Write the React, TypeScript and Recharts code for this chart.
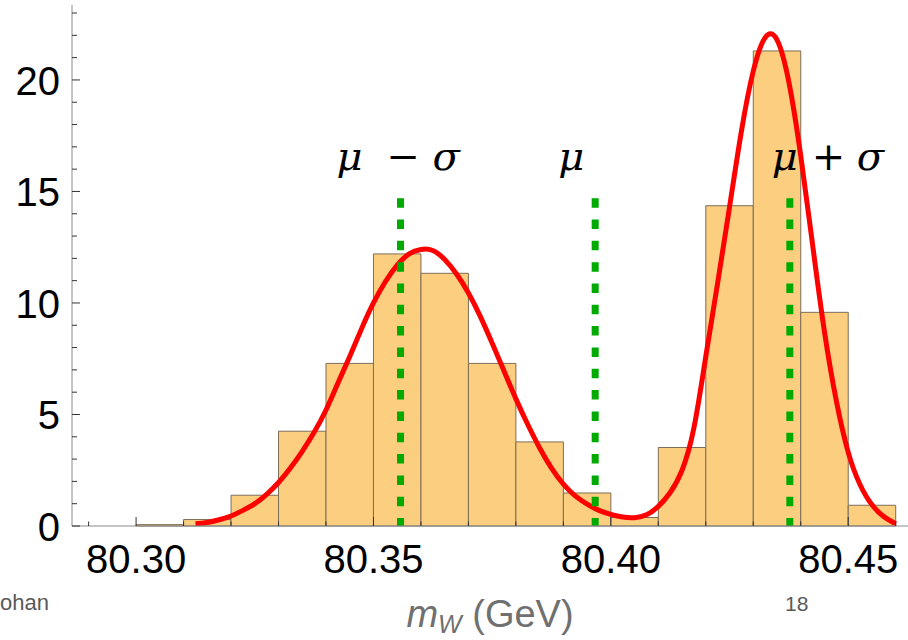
import React from "react";
import {
  ComposedChart,
  Line,
  XAxis,
  YAxis,
  ReferenceArea,
  ReferenceLine,
} from "recharts";

// histogram bins (GeV) and heights
const binEdges = [
  80.3, 80.31, 80.32, 80.33, 80.34, 80.35, 80.36, 80.37, 80.38, 80.39, 80.4,
  80.41, 80.42, 80.43, 80.44, 80.45, 80.46,
];
const binCounts = [
  0.06, 0.29, 1.38, 4.25, 7.29, 12.2, 11.33, 7.29, 3.77, 1.48, 0.38, 3.52,
  14.36, 21.3, 9.58, 0.93,
];

// fitted density curve, sampled every 0.0025 GeV
const curveX = [
  80.3125, 80.315, 80.3175, 80.32, 80.3225, 80.325, 80.3275, 80.33, 80.3325,
  80.335, 80.3375, 80.34, 80.3425, 80.345, 80.3475, 80.35, 80.3525, 80.355,
  80.3575, 80.36, 80.3625, 80.365, 80.3675, 80.37, 80.3725, 80.375, 80.3775,
  80.38, 80.3825, 80.385, 80.3875, 80.39, 80.3925, 80.395, 80.3975, 80.4,
  80.4025, 80.405, 80.4075, 80.41, 80.4125, 80.415, 80.4175, 80.42, 80.4225,
  80.425, 80.4275, 80.43, 80.4325, 80.435, 80.4375, 80.44, 80.4425, 80.445,
  80.4475, 80.45, 80.4525, 80.455, 80.4575, 80.46,
];
const curveY = [
  0.1, 0.16, 0.28, 0.45, 0.7, 1.0, 1.42, 1.95, 2.6, 3.35, 4.2, 5.2, 6.4, 7.6,
  8.85, 10.0, 10.95, 11.7, 12.2, 12.4, 12.35, 11.95, 11.3, 10.45, 9.4, 8.2,
  6.95, 5.7, 4.55, 3.5, 2.6, 1.88, 1.35, 0.98, 0.7, 0.52, 0.4, 0.37, 0.5, 0.88,
  1.5, 2.5, 4.4, 7.6, 10.9, 14.3, 17.7, 20.4, 21.9, 21.8, 19.9, 16.6, 12.6,
  8.7, 5.6, 3.3, 1.85, 0.95, 0.42, 0.1,
];

// mean and one-sigma markers
const markerX = [80.3557, 80.3967, 80.4377];
const markerTop = 14.7;

const xTicks = [
  80.29, 80.3, 80.31, 80.32, 80.33, 80.34, 80.35, 80.36, 80.37, 80.38, 80.39,
  80.4, 80.41, 80.42, 80.43, 80.44, 80.45, 80.46,
];
const xMajor = [80.3, 80.35, 80.4, 80.45];
const yTicks = [
  0, 1, 2, 3, 4, 5, 6, 7, 8, 9, 10, 11, 12, 13, 14, 15, 16, 17, 18, 19, 20,
  21, 22, 23,
];
const yMajor = [0, 5, 10, 15, 20];

const X_DOMAIN: [number, number] = [80.2865, 80.4628];
const Y_DOMAIN: [number, number] = [0, 23.36];

const curveData = curveX.map((x, i) => ({ x, y: curveY[i] }));

const isIn = (list: number[], v: number) =>
  list.some((m) => Math.abs(m - v) < 1e-6);

const TICK_COLOR = "#333";
const FRAME_COLOR = "#8a8a8a";
const LABEL_FONT = "'Liberation Sans', Arial, sans-serif";
const MATH_FONT = "'DejaVu Serif', 'Liberation Serif', serif";

function BottomTick(props: any) {
  const { x, y, payload } = props;
  const major = isIn(xMajor, payload.value);
  return (
    <g>
      <line x1={x} x2={x} y1={y} y2={y - (major ? 9 : 4.5)} stroke={TICK_COLOR} />
      {major && (
        <text
          x={x}
          y={y + 47}
          textAnchor="middle"
          fontSize={40}
          fontFamily={LABEL_FONT}
          fill="#000"
        >
          {payload.value.toFixed(2)}
        </text>
      )}
    </g>
  );
}

function TopTick(props: any) {
  const { x, y, payload } = props;
  const major = isIn(xMajor, payload.value);
  return <line x1={x} x2={x} y1={y} y2={y + (major ? 9 : 4.5)} stroke={TICK_COLOR} />;
}

function LeftTick(props: any) {
  const { x, y, payload } = props;
  const major = isIn(yMajor, payload.value);
  return (
    <g>
      <line x1={x} x2={x + (major ? 8 : 5)} y1={y} y2={y} stroke={TICK_COLOR} />
      {major && (
        <text
          x={x - 12}
          y={y + 15}
          textAnchor="end"
          fontSize={40}
          fontFamily={LABEL_FONT}
          fill="#000"
        >
          {payload.value}
        </text>
      )}
    </g>
  );
}

function RightTick(props: any) {
  const { x, y, payload } = props;
  const major = isIn(yMajor, payload.value);
  return <line x1={x} x2={x - (major ? 8 : 5)} y1={y} y2={y} stroke={TICK_COLOR} />;
}

// glyph pieces for each marker label, offset from the marker line
const markerGlyphs = [
  [
    { t: "μ", dx: -64, italic: true },
    { t: "−", dx: -14, italic: false },
    { t: "σ", dx: 32, italic: true },
  ],
  [{ t: "μ", dx: -37, italic: true }],
  [
    { t: "μ", dx: -18, italic: true },
    { t: "+", dx: 22, italic: false },
    { t: "σ", dx: 67, italic: true },
  ],
];

const markerLabel = (idx: number) => (props: any) => {
  const vb = props.viewBox || {};
  const x = vb.x ?? 0;
  const y = vb.y ?? 0;
  return (
    <text y={y - 28} fontSize={40} fontFamily={MATH_FONT} fill="#000">
      {markerGlyphs[idx].map((g, i) => (
        <tspan key={i} x={x + g.dx} fontStyle={g.italic ? "italic" : "normal"}>
          {g.t}
        </tspan>
      ))}
    </text>
  );
};

export default function App() {
  return (
    <div
      style={{
        position: "absolute",
        left: 0,
        top: 0,
        width: 908,
        height: 640,
        overflow: "hidden",
        background: "#fff",
      }}
    >
      <ComposedChart
        width={909}
        height={640}
        data={curveData}
        margin={{ top: 5, right: 0, left: 0, bottom: 0 }}
      >
        <XAxis
          dataKey="x"
          type="number"
          domain={X_DOMAIN}
          allowDataOverflow
          ticks={xTicks}
          interval={0}
          height={114}
          tickSize={0}
          tickMargin={0}
          tickLine={false}
          axisLine={{ stroke: FRAME_COLOR }}
          tick={<BottomTick />}
        />
        <XAxis
          xAxisId="top"
          orientation="top"
          type="number"
          domain={X_DOMAIN}
          allowDataOverflow
          ticks={xTicks}
          interval={0}
          height={0}
          tickSize={0}
          tickMargin={0}
          tickLine={false}
          axisLine={{ stroke: FRAME_COLOR }}
          tick={<TopTick />}
        />
        <YAxis
          type="number"
          domain={Y_DOMAIN}
          allowDataOverflow
          ticks={yTicks}
          interval={0}
          width={72}
          tickSize={0}
          tickMargin={0}
          tickLine={false}
          axisLine={{ stroke: FRAME_COLOR }}
          tick={<LeftTick />}
        />
        <YAxis
          yAxisId="right"
          orientation="right"
          type="number"
          domain={Y_DOMAIN}
          allowDataOverflow
          ticks={yTicks}
          interval={0}
          width={0}
          tickSize={0}
          tickMargin={0}
          tickLine={false}
          axisLine={{ stroke: FRAME_COLOR }}
          tick={<RightTick />}
        />

        {binCounts.map((c, i) => (
          <ReferenceArea
            key={i}
            x1={binEdges[i]}
            x2={binEdges[i + 1]}
            y1={0}
            y2={c}
            fill="#FBCE80"
            fillOpacity={1}
            stroke="#7d6d58"
            strokeWidth={1}
          />
        ))}

        <Line
          dataKey="y"
          type="natural"
          stroke="#FF0000"
          strokeWidth={5}
          dot={false}
          activeDot={false}
          isAnimationActive={false}
        />

        {markerX.map((m, i) => (
          <ReferenceLine
            key={i}
            segment={[
              { x: m, y: markerTop },
              { x: m, y: 0 },
            ]}
            stroke="#00AA00"
            strokeWidth={7}
            strokeDasharray="9.5 11.83"
            label={markerLabel(i)}
          />
        ))}
      </ComposedChart>

      <svg
        width={908}
        height={640}
        style={{ position: "absolute", left: 0, top: 0, pointerEvents: "none" }}
      >
        <text
          x={490}
          y={627}
          textAnchor="middle"
          fontSize={38}
          fontFamily={LABEL_FONT}
          fill="#707070"
        >
          <tspan fontStyle="italic">m</tspan>
          <tspan fontStyle="italic" fontSize={25} dy={6}>
            W
          </tspan>
          <tspan dy={-6}> (GeV)</tspan>
        </text>
        <text x={0} y={610} fontSize={22} fontFamily={LABEL_FONT} fill="#595959">
          ohan
        </text>
        <text x={785} y={611} fontSize={21} fontFamily={LABEL_FONT} fill="#595959">
          18
        </text>
      </svg>
    </div>
  );
}
